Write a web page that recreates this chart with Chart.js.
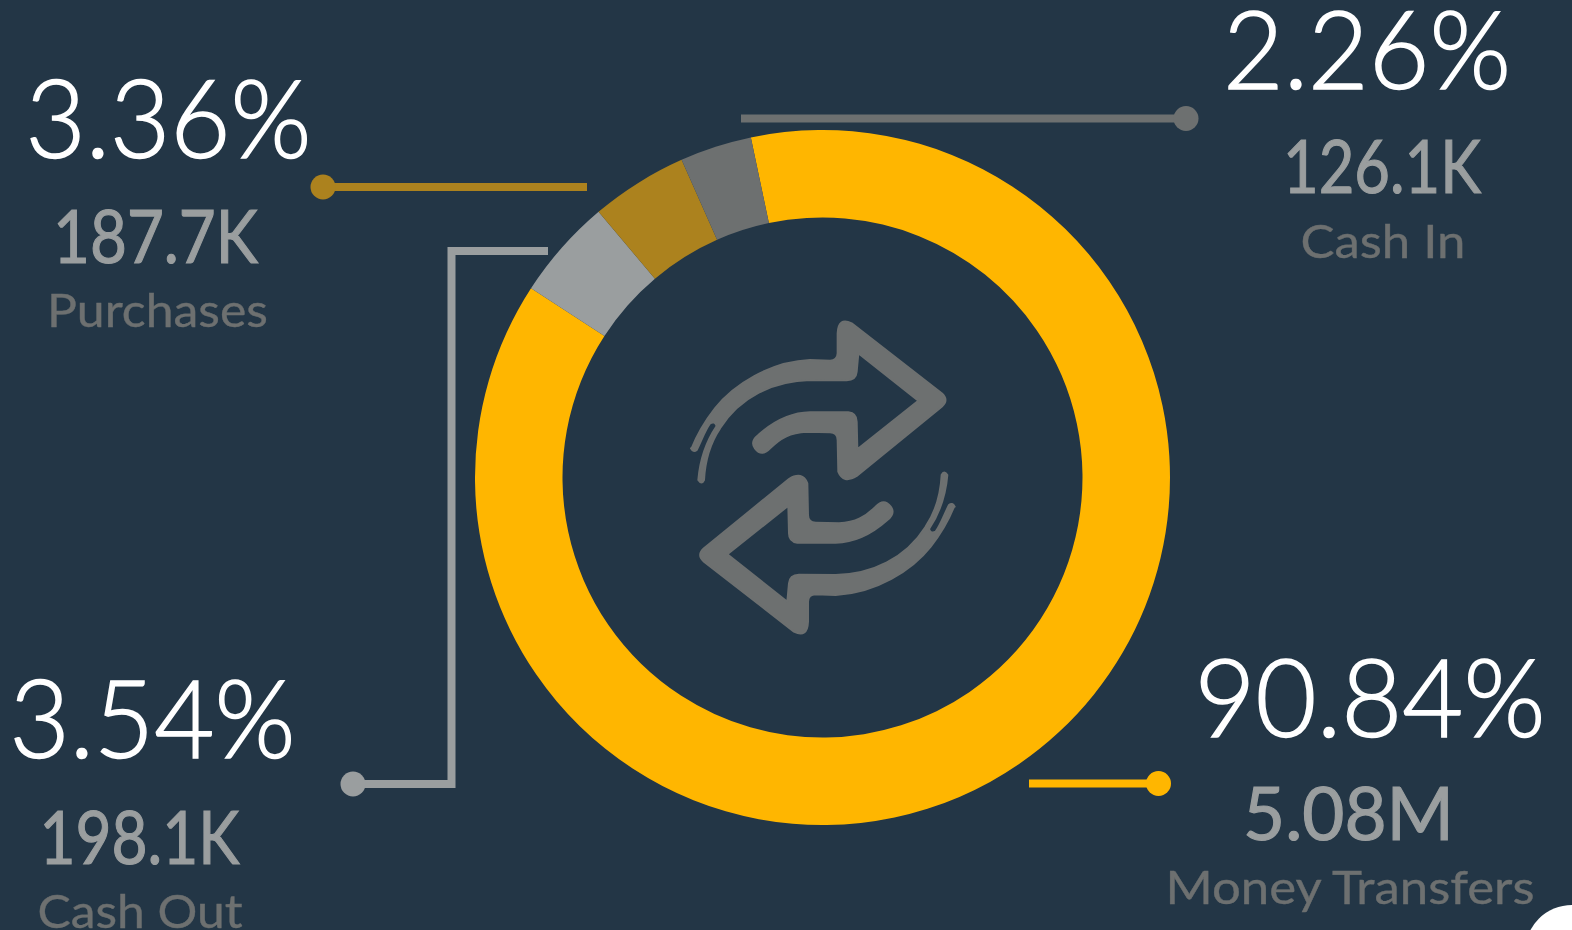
<!DOCTYPE html>
<html>
<head>
<meta charset="utf-8">
<title>Transaction types</title>
<script src="https://cdn.jsdelivr.net/npm/chart.js@4"></script>
<style>
  html, body { margin: 0; padding: 0; width: 1572px; height: 930px; overflow: hidden; background: #233646; }
  #wrap { position: relative; width: 1572px; height: 930px; }
  #wrap canvas, #wrap svg { position: absolute; left: 0; top: 0; }
  text { font-family: Lato, sans-serif; text-anchor: middle; }
</style>
</head>
<body>
<div id="wrap">
  <canvas id="c" width="1572" height="930"></canvas>
  <svg id="o" width="1572" height="930" viewBox="0 0 1572 930" xmlns="http://www.w3.org/2000/svg"></svg>
</div>
<script>
// Category names and the figures printed next to them
const categories = ['Money Transfers', 'Cash Out', 'Purchases', 'Cash In'];
const percentLabels = ['90.84%', '3.54%', '3.36%', '2.26%'];
const amountLabels = ['5.08M', '198.1K', '187.7K', '126.1K'];
// Arc shares (%) measured from the drawn ring. The reference does not draw its
// slices in proportion to the printed percentages, so these differ from them.
const sliceShares = [87.47, 4.69, 4.50, 3.34];
const sliceColors = ['#ffb600', '#9a9e9f', '#ac821e', '#6d7070'];

new Chart(document.getElementById('c'), {
  type: 'doughnut',
  data: { labels: categories, datasets: [{ data: sliceShares, backgroundColor: sliceColors, borderWidth: 0 }] },
  options: {
    responsive: false,
    animation: false,
    rotation: -11.9,
    radius: 347.5,
    cutout: '74.82%',
    layout: { padding: { left: 73, right: 0, top: 25, bottom: 0 } },
    plugins: { legend: { display: false }, tooltip: { enabled: false } }
  }
});

const NS = 'http://www.w3.org/2000/svg';
const svg = document.getElementById('o');
function el(name, attrs, parent) {
  const e = document.createElementNS(NS, name);
  for (const k in attrs) e.setAttribute(k, attrs[k]);
  (parent || svg).appendChild(e);
  return e;
}

// Leader lines, one per category
const leaders = [
  { pts: '1029,783.5 1158,783.5', dot: [1158.5, 783.5] },
  { pts: '548,251 451.5,251 451.5,784 353,784', dot: [353, 784] },
  { pts: '587,187 323,187', dot: [323, 187] },
  { pts: '741,118.5 1186,118.5', dot: [1186, 118.5] }
];
leaders.forEach((l, i) => {
  el('polyline', { points: l.pts, fill: 'none', stroke: sliceColors[i], 'stroke-width': 8, 'stroke-linejoin': 'miter' });
  el('circle', { cx: l.dot[0], cy: l.dot[1], r: 12.5, fill: sliceColors[i] });
});

// Text blocks: [centre x, baseline y, width]
const pctPos = [[1370, 737, 351], [152.5, 758, 286], [168.5, 158, 286], [1367, 89, 288]];
const amtPos = [[1348.5, 840, 211], [139.5, 864, 200], [155.5, 263, 205], [1382, 193, 198]];
const namePos = [[1350, 904, 369], [140, 928, 205], [157.5, 327, 221], [1383, 258, 165]];
function label(str, p, size, weight, fill, stroke) {
  const t = el('text', { x: p[0], y: p[1], 'font-size': size, 'font-weight': weight, fill: fill,
    stroke: fill, 'stroke-width': stroke, textLength: p[2], lengthAdjust: 'spacingAndGlyphs' });
  t.textContent = str;
}
categories.forEach((name, i) => {
  label(percentLabels[i], pctPos[i], 108, 300, '#ffffff', 1.6);
  label(amountLabels[i], amtPos[i], 74, 400, '#9a9e9f', 1.2);
  label(name, namePos[i], 47, 400, '#6d7070', 0.4);
});

// Centre icon: two arrows in a cycle
const arrow = 'M95,445 C105,420 130,370 165,325 C220,255 330,185 450,180 L510,182 Q532,182 533,160 L533,100 Q535,50 575,70 L845,280 Q868,300 845,320 L590,528 Q550,552 535,515 L533,420 Q533,398 510,397 L440,395 C390,397 360,415 330,445 Q305,472 285,445 Q270,425 295,405 C340,365 390,338 450,337 L565,337 Q590,340 590,365 L592,448 L775,302 L595,160 L590,215 Q588,240 560,241 L450,240 C340,243 240,290 180,385 C150,430 135,480 132,540 Q125,555 115,540 C120,480 135,430 170,378 Q165,362 150,370 C135,390 125,420 110,450 Q100,458 93,445 Z';
const g = el('g', { transform: 'translate(660,300) scale(0.33333)', fill: '#6d7070', stroke: '#6d7070', 'stroke-width': 6, 'stroke-linejoin': 'round' });
el('path', { d: arrow }, g);
el('path', { d: arrow, transform: 'rotate(180 488.5 532.5)' }, g);

// White shape clipped by the lower right corner
el('circle', { cx: 1572, cy: 952, r: 47, fill: '#ffffff' });
</script>
</body>
</html>
